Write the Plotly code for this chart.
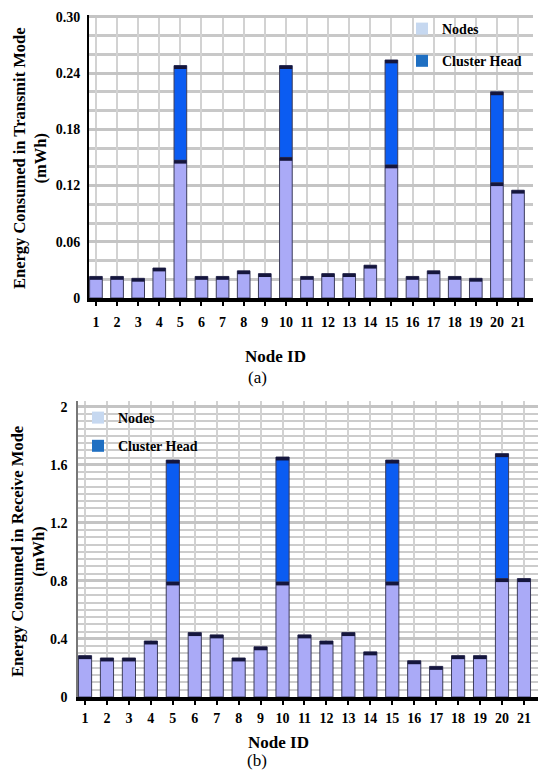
import plotly.graph_objects as go

# ---- data ----
node_ids = list(range(1, 22))
tick_labels = [str(i) for i in node_ids]

# (a) transmit mode, mWh
tx_nodes = [0.023, 0.023, 0.021, 0.032, 0.147, 0.023, 0.023, 0.029, 0.026, 0.150,
            0.023, 0.026, 0.026, 0.035, 0.142, 0.023, 0.029, 0.023, 0.021, 0.123, 0.115]
tx_ch = [0, 0, 0, 0, 0.101, 0, 0, 0, 0, 0.098,
         0, 0, 0, 0, 0.112, 0, 0, 0, 0, 0.097, 0]

# (b) receive mode, mWh
rx_nodes = [0.285, 0.269, 0.269, 0.386, 0.793, 0.444, 0.428, 0.269, 0.346, 0.793,
            0.428, 0.386, 0.444, 0.311, 0.793, 0.250, 0.211, 0.285, 0.285, 0.816, 0.816]
rx_ch = [0, 0, 0, 0, 0.840, 0, 0, 0, 0, 0.861,
         0, 0, 0, 0, 0.840, 0, 0, 0, 0, 0.861, 0]

tx_ticks = [0, 0.06, 0.12, 0.18, 0.24, 0.30]
tx_ticktext = ["0", "0.06", "0.12", "0.18", "0.24", "0.30"]
rx_ticks = [0, 0.4, 0.8, 1.2, 1.6, 2.0]
rx_ticktext = ["0", "0.4", "0.8", "1.2", "1.6", "2"]

# ---- style ----
PAGE_W, PAGE_H = 546, 778
OFF = 8  # default body margin of the html page (all sides)
W, H = PAGE_W - 2 * OFF, PAGE_H - 2 * OFF
SERIF = "Liberation Serif"
NODE_COL = "#aaaaf7"
CH_COL = "#0b5cf2"
CAP_COL = "#15163d"
EDGE_COL = "#3c3c5a"
GRID_COL = "#d2d2d2"
BAR_W = 0.6


# page pixels -> paper coords
def px_x(p):
    return min(max((p - OFF) / W, 0), 1)


def px_y(p):
    return min(max(1 - (p - OFF) / H, 0), 1)


fig = go.Figure()


def add_panel(nodes, ch, xa, ya, ymax, leg):
    cap = ymax * 0.012
    # nodes
    fig.add_trace(go.Bar(x=node_ids, y=nodes, width=BAR_W, marker_color=NODE_COL,
                         marker_line=dict(color=EDGE_COL, width=1),
                         xaxis=xa, yaxis=ya, showlegend=False, hoverinfo="skip"))
    # cluster head on top
    xs = [n for n, c in zip(node_ids, ch) if c > 0]
    bs = [v for v, c in zip(nodes, ch) if c > 0]
    cs = [c for c in ch if c > 0]
    fig.add_trace(go.Bar(x=xs, y=cs, base=bs, width=BAR_W, marker_color=CH_COL,
                         marker_line=dict(color=EDGE_COL, width=1),
                         xaxis=xa, yaxis=ya, showlegend=False, hoverinfo="skip"))
    # dark caps on top of every segment
    tops = list(nodes) + [b + c for b, c in zip(bs, cs)]
    cx = list(node_ids) + xs
    fig.add_trace(go.Bar(x=cx, y=[cap] * len(tops), base=[t - cap for t in tops],
                         width=BAR_W, marker_color=CAP_COL, marker_line_width=0,
                         xaxis=xa, yaxis=ya, showlegend=False, hoverinfo="skip"))
    # legend entries
    fig.add_trace(go.Bar(x=[None], y=[None], name="Nodes", marker_color="#c6d8f0",
                         marker_line_width=0, legend=leg, legendgroup=leg + "a",
                         xaxis=xa, yaxis=ya))
    fig.add_trace(go.Bar(x=[None], y=[None], name="Cluster Head", marker_color="#1f6fc2",
                         marker_line_width=0, legend=leg, legendgroup=leg + "b",
                         xaxis=xa, yaxis=ya))


add_panel(tx_nodes, tx_ch, "x", "y", 0.30, "legend")
add_panel(rx_nodes, rx_ch, "x2", "y2", 2.0, "legend2")

tickfont = dict(family=SERIF, size=14, color="black", weight="bold")
legfont = dict(family=SERIF, size=14, color="black", weight="bold")

xcommon = dict(tickvals=node_ids, ticktext=tick_labels, tickfont=tickfont,
               showgrid=True, gridcolor=GRID_COL, gridwidth=1.5,
               showline=True, linecolor="black", linewidth=4,
               ticks="outside", tickcolor="black", tickwidth=1.5, ticklen=4,
               zeroline=False, fixedrange=True, automargin=False)

fig.update_layout(
    width=W, height=H,
    margin=dict(l=0, r=0, t=0, b=0, autoexpand=False),
    paper_bgcolor="white", plot_bgcolor="white",
    barmode="overlay",
    xaxis=dict(domain=[px_x(89), px_x(533)], range=[0.67, 21.71], anchor="y",
               ticklabelstandoff=4, **xcommon),
    yaxis=dict(domain=[px_y(298), px_y(15)], range=[0, 0.302], anchor="x",
               tickvals=tx_ticks, ticktext=tx_ticktext, tickfont=tickfont,
               showgrid=True, gridcolor="#c4c4c4", gridwidth=2.5,
               minor=dict(dtick=0.02, tick0=0, showgrid=True, gridcolor="#c8c8c8", gridwidth=2.5),
               showline=True, linecolor="black", linewidth=2, zeroline=False,
               ticks="", ticklabelstandoff=4, automargin=False),
    xaxis2=dict(domain=[px_x(78), px_x(538)], range=[0.68, 21.64], anchor="y2",
                ticklabelstandoff=1, **xcommon),
    yaxis2=dict(domain=[px_y(697), px_y(401)], range=[0, 2.04], anchor="x2",
                tickvals=rx_ticks, ticktext=rx_ticktext, tickfont=tickfont,
                showgrid=True, gridcolor="#c4c4c4", gridwidth=2.5,
                minor=dict(dtick=0.05, tick0=0, showgrid=True, gridcolor="#cccccc", gridwidth=2),
                showline=True, linecolor="#777777", linewidth=1.5, zeroline=False,
                ticks="", ticklabelstandoff=6, automargin=False),
    legend=dict(x=px_x(402), y=px_y(13), xanchor="left", yanchor="top",
                bgcolor="rgba(0,0,0,0)", font=legfont, tracegroupgap=11),
    legend2=dict(x=px_x(78), y=px_y(402), xanchor="left", yanchor="top",
                 bgcolor="rgba(0,0,0,0)", font=legfont, tracegroupgap=7),
)

titlefont = dict(family=SERIF, size=16.5, color="black", weight="bold")
capfont = dict(family=SERIF, size=17, color="black")

annots = [
    dict(text="Energy Consumed in Transmit Mode<br>(mWh)", x=px_x(30), y=px_y(158),
         textangle=-90, font=titlefont),
    dict(text="Energy Consumed in Receive Mode<br>(mWh)", x=px_x(28), y=px_y(552),
         textangle=-90, font=titlefont),
    dict(text="Node ID", x=px_x(275), y=px_y(356), font=dict(titlefont, size=17)),
    dict(text="(a)", x=px_x(257), y=px_y(378), font=capfont),
    dict(text="Node ID", x=px_x(278), y=px_y(742), font=dict(titlefont, size=17)),
    dict(text="(b)", x=px_x(257), y=px_y(760), font=capfont),
]
for a in annots:
    fig.add_annotation(xref="paper", yref="paper", xanchor="center", yanchor="middle",
                       showarrow=False, **a)

fig.write_html("out.html")
